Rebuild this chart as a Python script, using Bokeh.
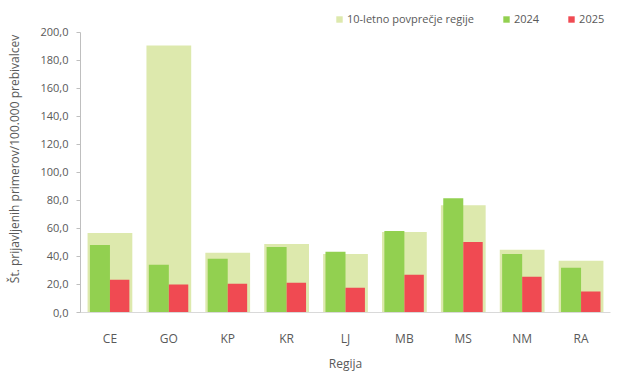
from bokeh.plotting import figure
from bokeh.models import FixedTicker, Legend, LegendItem, FactorRange, Range1d
from bokeh.transform import dodge
from bokeh.embed import file_html
from bokeh.resources import INLINE

regions = ["CE", "GO", "KP", "KR", "LJ", "MB", "MS", "NM", "RA"]
avg10 = [56.7, 190.5, 42.6, 48.9, 41.8, 57.4, 76.6, 44.7, 36.9]
y2024 = [48.2, 34.0, 38.3, 46.8, 43.3, 58.2, 81.6, 41.8, 31.9]
y2025 = [23.4, 19.9, 20.6, 21.3, 17.7, 27.0, 50.4, 25.5, 14.9]
yticks = [0, 20, 40, 60, 80, 100, 120, 140, 160, 180, 200]

FONT = "Open Sans"
TXT = "#595959"

p = figure(x_range=FactorRange(factors=regions, range_padding=0), y_range=Range1d(0, 219.1),
           width=625, height=374, output_backend="svg", toolbar_location=None,
           min_border_left=80, min_border_right=15, min_border_top=5, min_border_bottom=60)
p.outline_line_color = None
p.xgrid.grid_line_color = None
p.ygrid.grid_line_color = None

r_avg = p.vbar(x=regions, top=avg10, width=0.76, color="#dde9ad", line_color=None)
r24 = p.vbar(x=dodge("x", -0.17, range=p.x_range), top="top", width=0.34, color="#92d050",
             line_color=None, source=dict(x=regions, top=y2024))
r25 = p.vbar(x=dodge("x", 0.165, range=p.x_range), top="top", width=0.33, color="#f04a52",
             line_color=None, source=dict(x=regions, top=y2025))

# y axis
p.yaxis.bounds = (0, 200)
p.yaxis.ticker = FixedTicker(ticks=yticks)
p.yaxis.major_label_overrides = {t: f"{t},0" for t in yticks}
p.yaxis.axis_line_color = "#bfbfbf"
p.yaxis.major_tick_line_color = "#bfbfbf"
p.yaxis.major_tick_out = 4
p.yaxis.major_tick_in = 0
p.yaxis.minor_tick_line_color = None
p.yaxis.major_label_standoff = 8
p.yaxis.major_label_text_font = FONT
p.yaxis.major_label_text_font_size = "11px"
p.yaxis.major_label_text_color = TXT
p.yaxis.axis_label = "Št. prijavljenih primerov/100.000 prebivalcev"
p.yaxis.axis_label_text_font = FONT
p.yaxis.axis_label_text_font_size = "12px"
p.yaxis.axis_label_text_font_style = "normal"
p.yaxis.axis_label_text_color = TXT
p.yaxis.axis_label_standoff = 14

# x axis
p.xaxis.axis_line_color = "#d9d9d9"
p.xaxis.major_tick_line_color = None
p.xaxis.minor_tick_line_color = None
p.xaxis.major_label_standoff = 11
p.xaxis.major_label_text_font = FONT
p.xaxis.major_label_text_font_size = "12px"
p.xaxis.major_label_text_color = TXT
p.xaxis.axis_label = "Regija"
p.xaxis.axis_label_text_font = FONT
p.xaxis.axis_label_text_font_size = "12px"
p.xaxis.axis_label_text_font_style = "normal"
p.xaxis.axis_label_text_color = TXT
p.xaxis.axis_label_standoff = 5

legend = Legend(items=[LegendItem(label="10-letno povprečje regije", renderers=[r_avg]),
                       LegendItem(label="2024", renderers=[r24]),
                       LegendItem(label="2025", renderers=[r25])],
                orientation="horizontal", location=(255, 286),
                glyph_width=8, glyph_height=8, label_standoff=4, spacing=28,
                padding=0, margin=0, border_line_color=None, background_fill_alpha=0,
                label_text_font=FONT, label_text_font_size="11px", label_text_color=TXT,
                label_height=12)
p.add_layout(legend, "center")

open("out.html", "w").write(file_html(p, INLINE))
